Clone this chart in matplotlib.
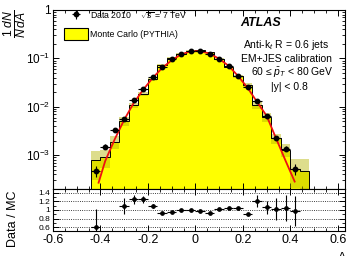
import matplotlib
matplotlib.use('Agg')
import matplotlib.pyplot as plt
import numpy as np
from matplotlib.patches import Patch
from matplotlib.ticker import MultipleLocator, LogLocator, NullFormatter

plt.rcParams['font.family'] = ['Liberation Sans', 'DejaVu Sans']
plt.rcParams['mathtext.fontset'] = 'custom'
plt.rcParams['mathtext.rm'] = 'Liberation Sans'
plt.rcParams['mathtext.it'] = 'Liberation Sans:italic'
plt.rcParams['mathtext.bf'] = 'Liberation Sans:bold'
plt.rcParams['axes.unicode_minus'] = False

# bin centres of the data (asymmetry A)
a_centers = [-0.42, -0.38, -0.34, -0.30, -0.26, -0.22, -0.18, -0.14, -0.10, -0.06, -0.02,
             0.02, 0.06, 0.10, 0.14, 0.18, 0.22, 0.26, 0.30, 0.34, 0.38, 0.42]
data_vals = [4.75e-4, 1.51e-3, 3.24e-3, 5.59e-3, 0.0136, 0.0234, 0.0406, 0.0667, 0.0977, 0.1257, 0.145,
             0.145, 0.1257, 0.0977, 0.071, 0.044, 0.0252, 0.0129, 6.55e-3, 2.26e-3, 1.36e-3, 5.15e-4]
data_rel_err = [0.25, 0.12, 0.08, 0.06, 0.04, 0.03, 0.02, 0.015, 0.01, 0.01, 0.01,
                0.01, 0.01, 0.01, 0.015, 0.02, 0.03, 0.04, 0.06, 0.08, 0.12, 0.25]

# Monte Carlo histogram
mc_edges = [-0.44, -0.40, -0.36, -0.32, -0.28, -0.24, -0.20, -0.16, -0.12, -0.08, -0.04, 0.0,
            0.04, 0.08, 0.12, 0.16, 0.20, 0.24, 0.28, 0.32, 0.36, 0.40, 0.44, 0.48]
mc_vals = [7.8e-4, 9.0e-4, 1.9e-3, 5.13e-3, 0.0109, 0.0187, 0.0372, 0.0725, 0.1018, 0.1257, 0.145,
           0.148, 0.1337, 0.0958, 0.0676, 0.0423, 0.0277, 0.0107, 6.2e-3, 2.22e-3, 1.31e-3, 5.3e-4, 4.8e-4]
mc_rel_err = [0.6, 0.4, 0.3, 0.2, 0.12, 0.1, 0.07, 0.05, 0.04, 0.03, 0.03,
              0.03, 0.03, 0.04, 0.05, 0.07, 0.1, 0.15, 0.2, 0.25, 0.3, 0.6, 0.7]

# fit curve
fit_x = [-0.408, -0.38, -0.34, -0.30, -0.26, -0.22, -0.18, -0.14, -0.10, -0.06, -0.02,
         0.02, 0.06, 0.10, 0.14, 0.18, 0.22, 0.26, 0.30, 0.34, 0.38, 0.418]
fit_y = [2.7e-4, 7.6e-4, 2.13e-3, 5.4e-3, 0.012, 0.0226, 0.0394, 0.0636, 0.0914, 0.1216, 0.140,
         0.141, 0.126, 0.098, 0.07, 0.043, 0.0245, 0.0125, 0.0065, 2.2e-3, 7.6e-4, 2.85e-4]

# Data / MC
ratio_vals = [0.61, np.nan, np.nan, 1.09, 1.25, 1.25, 1.09, 0.92, 0.96, 1.0, 1.0,
              0.98, 0.94, 1.02, 1.05, 1.04, 0.91, 1.21, 1.06, 1.02, 1.04, 0.98]
ratio_err = [0.42, 0, 0, 0.18, 0.1, 0.08, 0.05, 0.02, 0.02, 0.015, 0.015,
             0.015, 0.015, 0.02, 0.02, 0.03, 0.03, 0.13, 0.16, 0.25, 0.3, 0.35]

x_ticks = [-0.6, -0.4, -0.2, 0, 0.2, 0.4, 0.6]
x_ticklabels = ['-0.6', '-0.4', '-0.2', '0', '0.2', '0.4', '0.6']
ratio_ticks = [0.6, 0.8, 1.0, 1.2, 1.4]
ratio_ticklabels = ['0.6', '0.8', '1', '1.2', '1.4']

W, H = 351, 256
fig = plt.figure(figsize=(W / 100, H / 100), dpi=100)
ax = fig.add_axes([53 / W, (H - 189) / H, 292 / W, 179 / H])
ax2 = fig.add_axes([53 / W, (H - 231) / H, 292 / W, 42 / H], sharex=ax)

mc_vals = np.array(mc_vals)
mc_rel_err = np.array(mc_rel_err)
edges = np.array(mc_edges)
ax.stairs(mc_vals, edges, fill=True, color='#ffff00', baseline=1e-6, zorder=1)
lo = mc_vals * (1 - mc_rel_err)
hi = mc_vals * (1 + mc_rel_err)
ax.bar(edges[:-1], hi - lo, bottom=lo, width=np.diff(edges), align='edge',
       color='#b4b400', alpha=0.45, linewidth=0, zorder=2)
ax.stairs(mc_vals, edges, color='black', linewidth=0.7, baseline=1e-6, zorder=3)
ax.plot(fit_x, fit_y, color='#ee1111', linewidth=1.3, zorder=4)
dv = np.array(data_vals)
data_h = ax.errorbar(a_centers, dv, xerr=0.02, yerr=dv * np.array(data_rel_err), fmt='o',
                     color='black', ms=3.2, elinewidth=0.8, capsize=0, zorder=5)

ax.set_yscale('log')
ax.set_ylim(2e-4, 1)
ax.set_xlim(-0.6, 0.63)
ax.set_yticks([1e-3, 1e-2, 1e-1, 1])
ax.set_yticklabels(['$10^{-3}$', '$10^{-2}$', '$10^{-1}$', '1'], fontsize=8.5)
ax.yaxis.set_minor_locator(LogLocator(base=10, subs=np.arange(2, 10)))
ax.yaxis.set_minor_formatter(NullFormatter())
ax.xaxis.set_major_locator(MultipleLocator(0.2))
ax.xaxis.set_minor_locator(MultipleLocator(0.05))
ax.tick_params(which='both', direction='in', top=True, right=True, labelbottom=False, pad=2)
ax.tick_params(which='major', length=4.5, width=0.7)
ax.tick_params(which='minor', length=2.2, width=0.6)

leg = ax.legend([data_h, Patch(facecolor='#ffff00', edgecolor='black', linewidth=0.8)],
                ['Data 2010    $\\sqrt{s}$ = 7 TeV', 'Monte Carlo (PYTHIA)'],
                loc='upper left', bbox_to_anchor=(0.038, 1.0), frameon=False, fontsize=6.3,
                handlelength=2.7, handleheight=1.6, handletextpad=0.3, labelspacing=0.8,
                borderpad=0, borderaxespad=0)

ax.text(0.642, 0.93, 'ATLAS', transform=ax.transAxes, fontsize=9, fontweight='bold',
        fontstyle='italic', va='center', ha='left')
ax.text(0.80, 0.805, 'Anti-k$_t$ R = 0.6 jets', transform=ax.transAxes, fontsize=7.5, ha='center', va='center')
ax.text(0.80, 0.725, 'EM+JES calibration', transform=ax.transAxes, fontsize=7.5, ha='center', va='center')
ax.text(0.82, 0.65, '60 \u2264 $\\bar{p}_T$ < 80 GeV', transform=ax.transAxes, fontsize=7.5, ha='center', va='center')
ax.text(0.81, 0.57, '|y| < 0.8', transform=ax.transAxes, fontsize=7.5, ha='center', va='center')

fig.text(15 / W, 1 - 24 / H, '$\\frac{1}{N}\\frac{dN}{dA}$', rotation=90, fontsize=12.5, ha='center', va='center')

for t in ratio_ticks:
    ax2.axhline(t, color='black', linestyle=':', linewidth=0.6, zorder=1)
ax2.errorbar(a_centers, ratio_vals, xerr=0.02, yerr=ratio_err, fmt='o', color='black',
             ms=2.4, elinewidth=0.8, capsize=0, zorder=3)
ax2.set_ylim(0.51, 1.49)
ax2.set_yticks(ratio_ticks)
ax2.set_yticklabels(ratio_ticklabels, fontsize=6)
ax2.yaxis.set_minor_locator(MultipleLocator(0.1))
ax2.set_xticks(x_ticks)
ax2.set_xticklabels(x_ticklabels, fontsize=9)
ax2.xaxis.set_minor_locator(MultipleLocator(0.05))
ax2.set_xlim(-0.6, 0.63)
ax2.tick_params(which='both', direction='in', top=True, right=True, pad=2)
ax2.tick_params(which='major', length=4.5, width=0.7)
ax2.tick_params(which='minor', length=2.2, width=0.6)
ax2.set_ylabel('Data / MC', fontsize=9, labelpad=4)
ax2.yaxis.set_label_coords(-0.115, 0.3)

fig.text(342 / W, 4 / H, 'A', fontsize=9, ha='center', va='top')

fig.savefig('out.png', dpi=100)
